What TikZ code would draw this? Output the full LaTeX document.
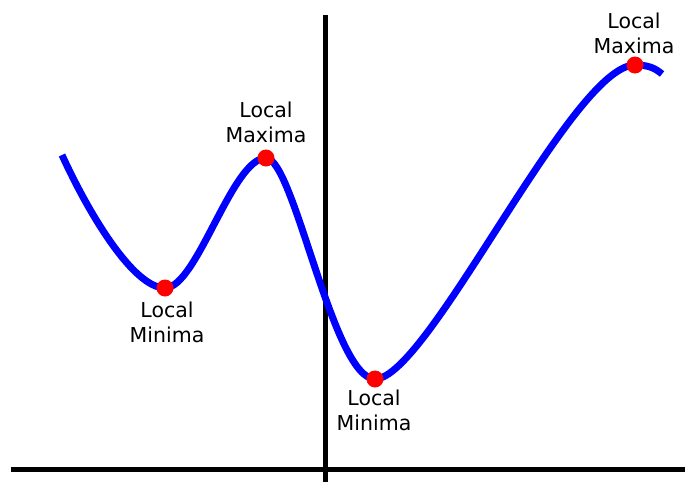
\documentclass[tikz,border=0pt]{standalone}
\usepackage{fontspec}
\setmainfont{DejaVu Sans}
\begin{document}
\begin{tikzpicture}[x=1pt,y=-1pt,
  axis/.style={line width=5pt,black},
  curve/.style={line width=7pt,blue},
  dot/.style={circle,fill=red,inner sep=0pt,minimum size=17pt},
  lbl/.style={align=center,inner sep=0pt,font=\fontsize{20.5}{25}\selectfont}]
\useasboundingbox (0,0) rectangle (685,482);
\fill[white] (0,0) rectangle (685,482);
% axes
\coordinate (xl) at (11,469);
\coordinate (xr) at (685,469);
\coordinate (yt) at (325,15);
\coordinate (yb) at (325,482);
\draw[axis] (xl) -- (xr);
\draw[axis] (yt) -- (yb);
% curve
\coordinate (s) at (62,155);
\coordinate (m1) at (165,288);
\coordinate (M1) at (266,158);
\coordinate (m2) at (375,379);
\coordinate (M2) at (635,65);
\coordinate (e) at (662,74);
\draw[curve] (s) .. controls (88,212) and (133,288) .. (m1)
  .. controls (197,288) and (232,158) .. (M1)
  .. controls (294,158) and (333,379) .. (m2)
  .. controls (428,379) and (572,65) .. (M2)
  .. controls (648,65) and (655,68) .. (e);
% dots
\node[dot] (d1) at (m1) {};
\node[dot] (d2) at (M1) {};
\node[dot] (d3) at (m2) {};
\node[dot] (d4) at (M2) {};
% labels
\node[lbl] (l1) at (167,322) {Local\\Minima};
\node[lbl] (l2) at (266,122) {Local\\Maxima};
\node[lbl] (l3) at (374,410) {Local\\Minima};
\node[lbl] (l4) at (634,33) {Local\\Maxima};
\end{tikzpicture}
\end{document}
